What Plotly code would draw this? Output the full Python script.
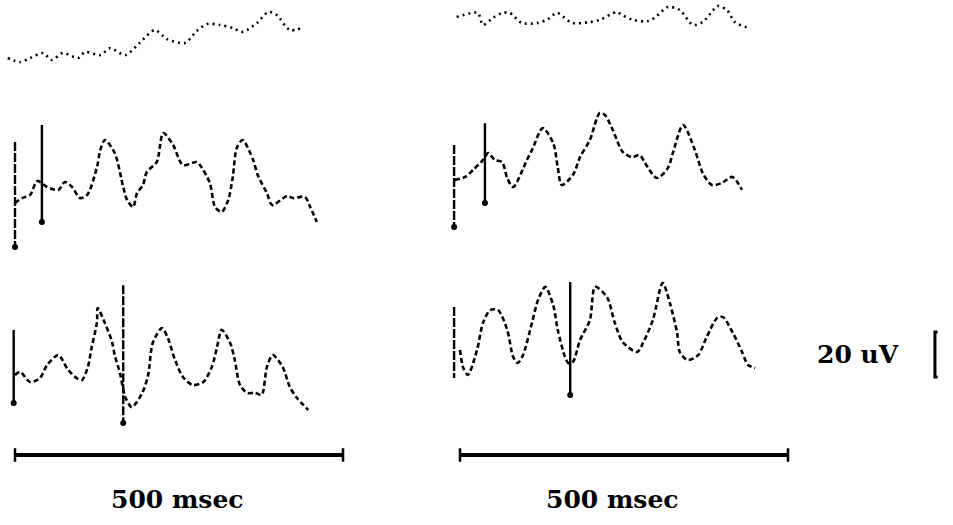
import plotly.graph_objects as go

W, H = 953, 525

# ---------------- data: time (ms) and amplitude (uV) -------------
# row 1 (top), left column
tl_t = [-11, 8, 23, 43, 56, 73, 96, 107, 130, 145, 168, 190, 213, 232, 259, 277, 293, 312,
        332, 347, 369, 386, 399, 419, 437]
tl_v = [-8.0, -9.8, -8.0, -5.8, -8.9, -5.8, -8.0, -5.3, -6.7, -3.6, -6.7, -1.3, 4.4, 0.4,
        -1.3, 4.0, 7.1, 6.7, 5.3, 3.6, 7.6, 12.4, 11.1, 4.4, 5.3]
# row 1 (top), right column
tr_t = [-5, 27, 35, 50, 64, 76, 94, 119, 134, 148, 171, 198, 213, 239, 247, 264, 287, 300,
        317, 335, 355, 370, 386, 393, 407, 419, 437, 442]
tr_v = [10.2, 12.0, 6.7, 9.8, 12.0, 12.0, 7.6, 7.6, 9.3, 12.0, 7.6, 8.0, 8.9, 12.4, 11.1,
        8.9, 8.4, 10.7, 14.7, 13.3, 6.7, 8.0, 13.3, 15.1, 13.3, 8.0, 5.8, 6.7]
# row 2 (middle), left column
ml_t = [0, 11, 23, 34, 49, 66, 76, 87, 99, 110, 125, 130, 137, 152, 165, 171, 180, 186, 195,
        201, 216, 226, 241, 256, 277, 282, 297, 305, 315, 325, 332, 338, 347, 363, 370, 384,
        392, 415, 424, 442, 450, 460]
ml_v = [-8.0, -5.8, -4.4, 1.8, -0.9, -2.2, 1.3, -0.9, -5.8, -4.4, 8.0, 15.6, 20.0, 14.2,
        -0.9, -6.7, -9.8, -3.6, 0.0, 5.8, 10.2, 23.1, 17.8, 8.9, 10.2, 8.9, 0.9, -9.8, -12.0,
        -6.7, 3.6, 16.4, 20.0, 11.1, 4.4, -3.6, -8.9, -4.9, -5.8, -5.3, -9.8, -16.4]
# row 2 (middle), right column
mr_t = [-8, 8, 20, 35, 43, 53, 64, 72, 81, 102, 111, 126, 142, 149, 155, 172, 183, 198, 213,
        221, 233, 248, 262, 274, 282, 300, 317, 325, 340, 358, 370, 384, 399, 415, 430]
mr_v = [2.2, 3.6, 6.7, 11.1, 14.2, 11.1, 10.2, 3.1, -0.9, 11.1, 16.4, 25.3, 18.7, 8.0, 0.0,
        4.4, 12.4, 20.0, 32.0, 31.1, 24.4, 14.7, 12.4, 13.3, 9.8, 3.1, 7.6, 14.7, 26.7, 15.6,
        5.3, 0.0, 0.9, 3.6, -2.2]
# row 3 (bottom), left column
bl_t = [0, 8, 23, 38, 49, 66, 81, 94, 102, 111, 117, 125, 126, 137, 148, 152, 160, 168, 178,
        194, 203, 210, 224, 233, 244, 256, 271, 287, 300, 308, 315, 328, 335, 343, 354, 366,
        376, 384, 393, 408, 419, 430, 447]
bl_v = [-4.4, -3.1, -7.6, -5.8, 0.0, 4.4, -2.2, -5.8, -6.7, -0.9, 8.0, 19.1, 25.3, 18.7,
        10.2, 4.4, -3.6, -14.2, -18.7, -12.4, -4.4, 9.8, 16.4, 12.0, 2.2, -5.3, -8.9, -7.6,
        -0.9, 8.0, 15.6, 9.8, 2.2, -8.9, -12.4, -12.4, -13.3, -0.9, 4.4, -0.9, -9.8, -14.7,
        -20.0]
# row 3 (bottom), right column
br_t = [0, 5, 12, 26, 35, 46, 58, 72, 81, 88, 96, 110, 119, 130, 142, 149, 160, 165, 172,
        183, 198, 206, 224, 236, 248, 270, 279, 294, 309, 320, 331, 335, 347, 363, 376, 392,
        401, 416, 430, 439, 450]
br_v = [6.7, -1.3, -4.4, 6.7, 18.7, 24.4, 24.4, 15.6, 3.6, 0.9, 4.4, 19.1, 28.9, 34.7, 26.7,
        15.6, 3.6, 0.9, 1.3, 11.1, 20.0, 34.7, 30.2, 18.7, 10.2, 5.8, 9.8, 20.0, 36.4, 27.5,
        14.2, 5.8, 2.2, 4.4, 12.4, 20.9, 21.3, 14.2, 5.8, 0.0, -1.3]

# stimulus marks (time ms, top uV, bottom uV, dot at bottom, broken line)
marks = {
    3: dict(t=[0, 41], top=[19.1, 26.7], bot=[-27.5, -16.4], dot=[True, True], broken=[True, False]),
    4: dict(t=[-9, 38], top=[17.8, 27.5], bot=[-18.7, -8.0], dot=[True, True], broken=[True, False]),
    5: dict(t=[-2, 165], top=[15.6, 35.5], bot=[-16.9, -25.8], dot=[True, True], broken=[False, True]),
    6: dict(t=[-9, 168], top=[25.8, 36.9], bot=[-5.8, -13.3], dot=[False, True], broken=[True, False]),
}

# calibration
time_bar_ms = 500
time_bar_label = "500 msec"
amp_bar_uv = 20
amp_bar_label = "20 uV"

# ---------------- layout constants (pixels) ----------------
PX_PER_MS = 328 / 500
PX_PER_UV = 45 / 20
col_px = [(0, 440), (440, 953)]
col_origin_px = [15, 460]
row_px = [(0, 85), (85, 255), (255, 525)]
row_base_px = [40, 185, 365]
FONT = "DejaVu Serif"

fig = go.Figure()
layout_axes = {}
for r in range(3):
    for c in range(2):
        i = r * 2 + c + 1
        x0, x1 = col_px[c]
        y0, y1 = row_px[r]
        o = col_origin_px[c]
        b = row_base_px[r]
        xn = "xaxis" if i == 1 else f"xaxis{i}"
        yn = "yaxis" if i == 1 else f"yaxis{i}"
        layout_axes[xn] = dict(domain=[x0 / W, x1 / W],
                               range=[(x0 - o) / PX_PER_MS, (x1 - o) / PX_PER_MS],
                               visible=False, fixedrange=True, anchor=f"y{i}")
        layout_axes[yn] = dict(domain=[1 - y1 / H, 1 - y0 / H],
                               range=[(b - y1) / PX_PER_UV, (b - y0) / PX_PER_UV],
                               visible=False, fixedrange=True, anchor=f"x{i}")

series = [(tl_t, tl_v), (tr_t, tr_v), (ml_t, ml_v), (mr_t, mr_v), (bl_t, bl_v), (br_t, br_v)]
for k, (t, v) in enumerate(series):
    i = k + 1
    dash = "2px,4px" if k < 2 else "5px,3px"
    fig.add_trace(go.Scatter(x=t, y=v, mode="lines",
                             line=dict(color="black", width=2.6, dash=dash,
                                       shape="spline", smoothing=0.8),
                             xaxis=f"x{i}", yaxis=f"y{i}", showlegend=False, hoverinfo="skip"))

for i, m in marks.items():
    for t, top, bot, dot, broken in zip(m["t"], m["top"], m["bot"], m["dot"], m["broken"]):
        fig.add_trace(go.Scatter(x=[t, t], y=[top, bot], mode="lines",
                                 line=dict(color="black", width=2.4,
                                           dash="9px,2px" if broken else "solid"),
                                 xaxis=f"x{i}", yaxis=f"y{i}", showlegend=False, hoverinfo="skip"))
        if dot:
            fig.add_trace(go.Scatter(x=[t], y=[bot], mode="markers",
                                     marker=dict(color="black", size=6),
                                     xaxis=f"x{i}", yaxis=f"y{i}", showlegend=False, hoverinfo="skip"))

# time scale bars in bottom row
bar_uv = (row_base_px[2] - 455) / PX_PER_UV
for i, lab_x in ((5, 248), (6, 232)):
    fig.add_trace(go.Scatter(x=[0, time_bar_ms], y=[bar_uv, bar_uv], mode="lines",
                             line=dict(color="black", width=4),
                             xaxis=f"x{i}", yaxis=f"y{i}", showlegend=False, hoverinfo="skip"))
    for tt in (0, time_bar_ms):
        fig.add_trace(go.Scatter(x=[tt, tt], y=[bar_uv + 3, bar_uv - 3], mode="lines",
                                 line=dict(color="black", width=2.5),
                                 xaxis=f"x{i}", yaxis=f"y{i}", showlegend=False, hoverinfo="skip"))
    fig.add_annotation(x=lab_x, y=(row_base_px[2] - 499) / PX_PER_UV, xref=f"x{i}", yref=f"y{i}",
                       text=f"<b>{time_bar_label}</b>", showarrow=False,
                       font=dict(family=FONT, size=25, color="black"))

# amplitude calibration bracket
amp_t = 724
amp_bot = -5.3
fig.add_trace(go.Scatter(x=[amp_t + 4, amp_t, amp_t, amp_t + 4],
                         y=[amp_bot + amp_bar_uv, amp_bot + amp_bar_uv, amp_bot, amp_bot],
                         mode="lines", line=dict(color="black", width=3),
                         xaxis="x6", yaxis="y6", showlegend=False, hoverinfo="skip"))
fig.add_annotation(x=607, y=amp_bot + amp_bar_uv / 2, xref="x6", yref="y6",
                   text=f"<b>{amp_bar_label}</b>", showarrow=False,
                   font=dict(family=FONT, size=25, color="black"))

fig.update_layout(width=W, height=H, margin=dict(l=0, r=0, t=0, b=0),
                  paper_bgcolor="white", plot_bgcolor="rgba(0,0,0,0)", **layout_axes)

fig.write_html("out.html", config={"displayModeBar": False})
